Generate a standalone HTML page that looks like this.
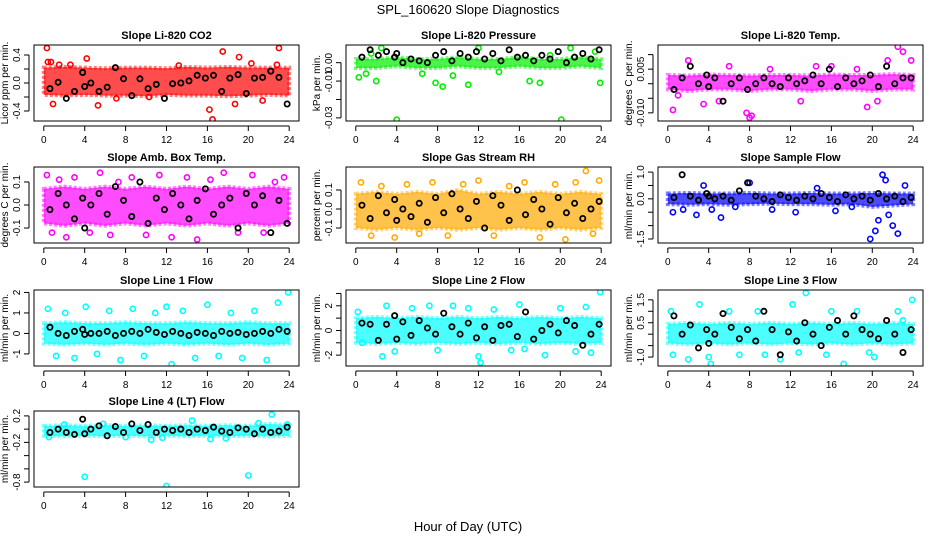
<!DOCTYPE html>
<html><head><meta charset="utf-8">
<style>
body{margin:0;background:#fff;}
svg{display:block;font-family:"Liberation Sans",sans-serif;}
</style></head>
<body>
<svg id="chart" width="936" height="540" viewBox="0 0 936 540" xmlns="http://www.w3.org/2000/svg">
<rect x="0" y="0" width="936" height="540" fill="#fff"/>
<text x="468" y="14" text-anchor="middle" font-size="13">SPL_160620  Slope Diagnostics</text>
<text x="468" y="531" text-anchor="middle" font-size="13">Hour of Day (UTC)</text>
</svg>
<script>
// shared x data
const bandHours=[0,2,4,6,8,10,12,14,16,18,20,22,24];
const blackHours=[0.6,1.4,2.2,3.0,3.8,4.0,4.6,5.4,6.2,7.0,7.8,8.6,9.4,10.2,11.0,11.8,12.6,13.4,14.2,15.0,15.8,16.6,17.4,18.2,19.0,19.8,20.6,21.4,22.2,23.0,23.8];
const xTicks=[0,4,8,12,16,20,24];

// Panel 1: CO2
const p1BandLo=[-0.17,-0.18,-0.17,-0.18,-0.18,-0.19,-0.17,-0.18,-0.18,-0.19,-0.18,-0.17,-0.18];
const p1BandHi=[0.22,0.23,0.22,0.21,0.22,0.22,0.21,0.23,0.22,0.23,0.22,0.22,0.22];
const p1OutX=[0.3,0.4,0.7,0.9,1.5,4.2,5.3,16.2,16.5,17.5,18.7,19.1,21.4,23.0,22.8,10.3,13.2,7.1,2.6,20.3];
const p1OutY=[0.5,0.3,0.3,-0.3,0.26,0.35,-0.32,-0.38,-0.52,0.45,-0.3,0.37,-0.25,0.5,0.26,-0.2,0.25,-0.22,0.26,0.28];
const p1Black=[-0.08,0.01,-0.22,-0.12,0.15,-0.05,0.0,-0.12,-0.06,0.22,0.06,-0.18,0.06,-0.08,-0.02,-0.22,-0.01,0.0,0.03,0.11,0.07,0.11,-0.12,0.07,0.12,-0.15,0.07,0.08,0.17,0.08,-0.3];

// Panel 2: Pressure
const p2BandLo=[-0.003,-0.003,-0.002,-0.003,-0.003,-0.002,-0.003,-0.003,-0.002,-0.003,-0.003,-0.002,-0.003];
const p2BandHi=[0.002,0.002,0.003,0.002,0.002,0.003,0.002,0.002,0.003,0.002,0.002,0.003,0.002];
const p2OutX=[0.3,1.0,1.5,2.0,4.0,6.5,7.8,8.5,11.0,12.0,14.0,17.0,18.0,20.1,23.4,23.9,21.0,2.5,19.0,9.5];
const p2OutY=[-0.008,-0.006,0.005,-0.01,-0.031,-0.006,-0.011,-0.013,-0.012,0.008,-0.005,-0.01,-0.011,-0.031,0.006,-0.011,0.008,0.008,0.004,-0.007];
const p2Black=[0.003,0.007,0.004,0.006,0.003,0.005,0.0,0.002,0.001,0.0,0.004,0.006,0.001,0.005,0.003,0.006,0.002,0.005,0.001,0.007,0.003,0.004,0.001,0.004,0.002,0.006,0.0,0.003,0.005,0.002,0.007];

// Panel 3: Li-820 Temp
const p3BandLo=[-0.002,-0.0025,-0.002,-0.002,-0.0025,-0.002,-0.002,-0.0025,-0.002,-0.002,-0.0025,-0.002,-0.002];
const p3BandHi=[0.003,0.0028,0.0032,0.003,0.0028,0.003,0.003,0.0028,0.0032,0.003,0.003,0.0033,0.003];
const p3OutX=[0.5,1.0,2.0,3.5,6.0,7.7,8.2,8.0,13.0,18.5,21.5,22.5,23.0,23.8,20.5,16.0,10.0,5.0,14.5,19.5];
const p3OutY=[-0.009,-0.004,0.008,-0.007,0.006,-0.010,-0.011,-0.0117,-0.006,0.005,0.008,0.0127,0.011,0.008,-0.006,0.006,0.005,-0.006,0.006,-0.008];
const p3Black=[-0.002,0.002,0.006,0.0,0.003,-0.001,0.002,-0.006,0.0,0.002,-0.002,0.0,0.002,0.0,-0.001,0.002,0.0,0.001,0.003,0.0,0.005,-0.001,0.002,0.0,0.001,0.003,-0.001,0.006,0.0,0.002,0.002];

// Panel 4: Amb. Box Temp
const p4BandLo=[-0.08,-0.09,-0.08,-0.09,-0.08,-0.09,-0.08,-0.09,-0.08,-0.09,-0.08,-0.09,-0.08];
const p4BandHi=[0.07,0.08,0.07,0.08,0.07,0.08,0.07,0.08,0.07,0.08,0.07,0.08,0.07];
const p4OutX=[0.3,0.8,1.5,2.2,3.0,4.5,5.5,6.5,7.3,8.6,10.0,11.3,12.5,14.0,15.0,16.3,17.6,19.0,20.4,21.5,22.6,23.5];
const p4OutY=[0.13,-0.12,0.11,-0.14,0.12,-0.12,0.14,-0.13,0.1,0.12,-0.13,0.13,-0.14,0.12,-0.15,0.11,0.14,-0.12,0.13,-0.12,0.1,0.12];
const p4Black=[-0.02,0.05,0.0,-0.06,0.03,-0.1,0.0,0.05,-0.04,0.08,0.02,-0.05,0.1,-0.08,0.03,-0.02,0.05,0.0,-0.06,0.02,0.07,-0.04,0.0,0.03,-0.1,0.05,0.0,0.04,-0.12,0.02,-0.08];

// Panel 5: Gas Stream RH
const p5BandLo=[-0.1,-0.11,-0.1,-0.11,-0.1,-0.11,-0.1,-0.11,-0.1,-0.11,-0.1,-0.11,-0.1];
const p5BandHi=[0.08,0.09,0.08,0.09,0.08,0.1,0.08,0.09,0.08,0.09,0.08,0.09,0.08];
const p5OutX=[0.5,1.5,2.5,3.8,5.0,6.2,7.5,9.0,10.5,12.0,13.5,15.0,16.5,18.0,19.5,20.5,21.5,22.5,23.2,23.8];
const p5OutY=[0.14,-0.14,0.12,-0.15,0.13,-0.13,0.14,-0.14,0.13,0.15,-0.14,0.12,0.14,-0.15,0.13,-0.16,0.14,0.2,-0.13,0.15];
const p5Black=[0.02,-0.05,0.07,-0.02,0.05,-0.06,0.0,-0.04,0.03,-0.07,0.06,-0.02,0.08,0.0,-0.05,0.04,-0.1,0.07,0.02,-0.06,0.1,-0.03,0.05,0.0,-0.08,0.06,-0.02,0.03,-0.05,0.0,0.04];

// Panel 6: Sample Flow
const p6BandLo=[-0.2,-0.22,-0.2,-0.22,-0.2,-0.18,-0.2,-0.2,-0.22,-0.2,-0.3,-0.25,-0.2];
const p6BandHi=[0.2,0.22,0.2,0.2,0.22,0.2,0.2,0.22,0.2,0.2,0.22,0.2,0.2];
const p6OutX=[0.5,1.5,2.8,3.5,4.3,5.2,6.6,8.0,10.2,12.5,14.6,16.4,18.0,19.8,20.3,20.6,21.0,21.3,21.6,22.0,22.5,23.2];
const p6OutY=[-0.5,-0.4,-0.6,0.5,-0.4,-0.7,-0.3,0.6,-0.4,-0.5,0.4,-0.45,-0.3,-1.5,-1.2,-0.8,0.9,0.7,-0.6,-1.0,-1.3,0.5];
const p6Black=[0.05,0.9,0.1,-0.05,0.2,0.1,0.0,0.1,-0.05,0.3,0.6,0.1,0.0,-0.1,0.15,0.05,-0.05,0.1,0.0,0.2,0.05,-0.1,0.15,0.0,0.1,-0.05,0.2,0.0,0.1,-0.1,0.05];

// Panel 7: Line 1 Flow
const p7BandLo=[-0.5,-0.55,-0.5,-0.55,-0.5,-0.55,-0.5,-0.55,-0.5,-0.55,-0.5,-0.55,-0.5];
const p7BandHi=[0.5,0.55,0.5,0.5,0.55,0.5,0.5,0.55,0.5,0.5,0.55,0.5,0.5];
const p7OutX=[0.4,1.2,2.1,3.0,4.1,5.2,6.4,7.5,8.7,9.8,10.9,12.0,12.5,13.6,14.8,16.0,17.1,18.3,19.4,20.6,21.8,22.9,23.9];
const p7OutY=[1.2,-1.1,1.0,-1.2,1.3,-1.0,1.1,-1.3,1.2,-1.1,1.0,1.3,-1.5,1.1,-1.2,1.4,-1.1,1.0,-1.2,1.1,-1.3,1.5,2.0];
const p7Black=[0.3,0.0,-0.1,0.1,0.2,-0.05,0.0,0.0,0.1,-0.1,0.0,0.1,0.0,0.2,0.05,-0.05,0.1,0.0,-0.1,0.05,0.0,-0.1,0.1,0.0,0.05,-0.05,0.0,0.1,0.0,0.2,0.1];

// Panel 8: Line 2 Flow
const p8BandLo=[-1.0,-1.1,-1.0,-1.1,-1.0,-1.1,-1.0,-1.1,-1.0,-1.1,-1.0,-1.1,-1.0];
const p8BandHi=[1.0,1.1,1.0,1.1,1.0,1.1,1.0,1.1,1.0,1.1,1.0,1.1,1.0];
const p8OutX=[0.2,0.6,2.6,3.0,3.8,5.5,7.2,8.0,9.5,11.0,12.0,12.2,13.5,15.2,16.0,16.5,18.5,20.0,21.5,22.5,23.0,23.9];
const p8OutY=[1.5,-1.0,-2.1,2.0,-1.7,1.8,2.0,-1.6,2.0,1.8,-2.1,-2.6,1.7,-1.6,2.1,-1.5,-2.0,1.8,-1.7,1.9,-1.8,3.1];
const p8Black=[0.6,0.5,-0.8,0.5,1.2,-0.7,0.7,-0.4,0.8,0.2,-0.3,1.4,0.3,-0.3,0.6,-0.6,0.3,-0.8,0.4,0.5,-0.5,1.5,-0.7,0.0,0.5,-0.2,0.8,0.4,-1.2,-0.3,0.5];

// Panel 9: Line 3 Flow
const p9BandLo=[-0.4,-0.45,-0.4,-0.45,-0.4,-0.45,-0.4,-0.45,-0.4,-0.45,-0.4,-0.45,-0.4];
const p9BandHi=[0.45,0.5,0.45,0.5,0.45,0.5,0.45,0.5,0.45,0.5,0.45,0.5,0.45];
const p9OutX=[0.3,0.5,2.0,3.1,4.0,4.2,6.0,7.0,8.8,9.5,11.0,12.2,12.8,13.5,15.5,16.0,17.2,18.5,19.7,20.2,22.5,23.0,23.9];
const p9OutY=[1.0,-0.9,-1.1,1.3,-1.0,-1.3,1.0,-0.9,1.0,-0.9,-1.1,1.3,-0.8,1.8,-0.9,1.0,-1.3,1.0,-0.8,-1.0,1.0,0.6,1.5];
const p9Black=[0.8,0.0,0.4,-0.6,0.2,-0.4,0.0,0.9,0.3,-0.2,0.2,-0.3,1.0,0.2,-0.9,0.1,-0.3,0.5,0.0,-0.5,0.3,0.6,0.0,0.8,0.2,0.0,-0.2,0.6,0.0,-0.8,0.2];

// Panel 10: Line 4 (LT) Flow
const p10BandLo=[-0.1,-0.11,-0.1,-0.11,-0.1,-0.11,-0.1,-0.11,-0.1,-0.11,-0.1,-0.11,-0.1];
const p10BandHi=[0.05,0.06,0.05,0.06,0.05,0.06,0.05,0.06,0.05,0.06,0.05,0.08,0.06];
const p10OutX=[0.5,2.0,4.0,5.8,8.0,10.5,11.6,12.0,14.5,16.3,17.8,20.0,21.0,22.3,23.8];
const p10OutY=[-0.12,0.07,-0.72,0.08,-0.12,-0.16,-0.13,-0.86,0.13,-0.15,-0.14,-0.7,0.09,0.22,0.07];
const p10Black=[-0.05,0.0,-0.05,-0.08,0.15,-0.07,0.0,0.05,-0.1,0.04,-0.05,0.08,-0.02,0.07,-0.05,0.0,-0.02,0.0,-0.05,0.0,-0.02,0.03,-0.03,-0.05,0.02,0.0,-0.07,0.0,-0.05,-0.03,0.03];

const NS="http://www.w3.org/2000/svg";
const svg=document.getElementById('chart');
function mk(tag,attrs,parent){const e=document.createElementNS(NS,tag);for(const k in attrs)e.setAttribute(k,attrs[k]);(parent||svg).appendChild(e);return e;}

const colL=[34,346,658], rowT=[45,167,290,411], W=265, H=76;
const panels=[
 {c:0,r:0,title:"Slope Li-820 CO2",yl:"Licor ppm per min.",col:"#ff0000",ylim:[-0.543,0.543],ticks:[-0.4,-0.2,0,0.2,0.4],labels:{"-0.4":"-0.4","0":"0.0","0.4":"0.4"},lo:p1BandLo,hi:p1BandHi,ox:p1OutX,oy:p1OutY,bk:p1Black},
 {c:1,r:0,title:"Slope Li-820 Pressure",yl:"kPa per min.",col:"#00ee00",ylim:[-0.0317,0.0096],ticks:[-0.03,-0.02,-0.01,0],labels:{"-0.03":"-0.03","-0.01":"-0.01","0":"0.00"},lo:p2BandLo,hi:p2BandHi,ox:p2OutX,oy:p2OutY,bk:p2Black},
 {c:2,r:0,title:"Slope Li-820 Temp.",yl:"degrees C per min.",col:"#ff00ff",ylim:[-0.0128,0.0133],ticks:[-0.01,-0.005,0,0.005,0.01],labels:{"-0.01":"-0.010","0.005":"0.005"},lo:p3BandLo,hi:p3BandHi,ox:p3OutX,oy:p3OutY,bk:p3Black},
 {c:0,r:1,title:"Slope Amb. Box Temp.",yl:"degrees C per min.",col:"#ff00ff",ylim:[-0.165,0.165],ticks:[-0.1,0,0.1],labels:{"-0.1":"-0.1","0":"0.0","0.1":"0.1"},lo:p4BandLo,hi:p4BandHi,ox:p4OutX,oy:p4OutY,bk:p4Black},
 {c:1,r:1,title:"Slope Gas Stream RH",yl:"percent per min.",col:"#ffaa00",ylim:[-0.179,0.221],ticks:[-0.1,0,0.1],labels:{"-0.1":"-0.1","0":"0.0","0.1":"0.1"},lo:p5BandLo,hi:p5BandHi,ox:p5OutX,oy:p5OutY,bk:p5Black},
 {c:2,r:1,title:"Slope Sample Flow",yl:"ml/min per min.",col:"#0000ff",ylim:[-1.65,1.19],ticks:[-1.5,-1,-0.5,0,0.5,1],labels:{"-1.5":"-1.5","0":"0.0","1":"1.0"},lo:p6BandLo,hi:p6BandHi,ox:p6OutX,oy:p6OutY,bk:p6Black},
 {c:0,r:2,title:"Slope Line 1 Flow",yl:"ml/min per min.",col:"#00ffff",ylim:[-1.59,2.12],ticks:[-1,0,1,2],labels:{"-1":"-1","0":"0","1":"1","2":"2"},lo:p7BandLo,hi:p7BandHi,ox:p7OutX,oy:p7OutY,bk:p7Black},
 {c:1,r:2,title:"Slope Line 2 Flow",yl:"ml/min per min.",col:"#00ffff",ylim:[-2.88,3.28],ticks:[-2,-1,0,1,2,3],labels:{"-2":"-2","0":"0","2":"2"},lo:p8BandLo,hi:p8BandHi,ox:p8OutX,oy:p8OutY,bk:p8Black},
 {c:2,r:2,title:"Slope Line 3 Flow",yl:"ml/min per min.",col:"#00ffff",ylim:[-1.39,1.93],ticks:[-1,-0.5,0,0.5,1,1.5],labels:{"-1":"-1.0","0.5":"0.5","1.5":"1.5"},lo:p9BandLo,hi:p9BandHi,ox:p9OutX,oy:p9OutY,bk:p9Black},
 {c:0,r:3,title:"Slope Line 4 (LT) Flow",yl:"ml/min per min.",col:"#00ffff",ylim:[-0.874,0.274],ticks:[-0.8,-0.6,-0.4,-0.2,0,0.2],labels:{"-0.8":"-0.8","-0.2":"-0.2","0.2":"0.2"},lo:p10BandLo,hi:p10BandHi,ox:p10OutX,oy:p10OutY,bk:p10Black}
];

panels.forEach((p,idx)=>{
  const L=colL[p.c], T=rowT[p.r];
  const g=mk('g',{});
  
  
  const xs=h=>L+W*(h+0.96)/25.92;
  const ys=v=>T+H*(p.ylim[1]-v)/(p.ylim[1]-p.ylim[0]);
  const clip='clip'+idx;
  const cp=mk('clipPath',{id:clip},g);mk('rect',{x:L,y:T,width:W,height:H},cp);
  // band
  let pts=bandHours.map((h,i)=>xs(h)+','+ys(p.hi[i]));
  pts=pts.concat(bandHours.map((h,i)=>xs(h)+','+ys(p.lo[i])).reverse());
  const band=mk('polygon',{points:pts.join(' '),fill:p.col,'fill-opacity':0.7,stroke:p.col,'stroke-opacity':0.5,'stroke-width':4,'stroke-dasharray':'3 2','clip-path':'url(#'+clip+')'},g);
  
  
  // outlier points
  p.ox.forEach((h,i)=>{
    const c=mk('circle',{cx:xs(h),cy:ys(p.oy[i]),r:2.6,fill:'none',stroke:p.col,'stroke-width':1.6,'clip-path':'url(#'+clip+')'},g);
    
    
  });
  // black points
  blackHours.forEach((h,i)=>{
    const c=mk('circle',{cx:xs(h),cy:ys(p.bk[i]),r:2.6,fill:'none',stroke:'#000','stroke-width':1.8,'clip-path':'url(#'+clip+')'},g);
    
    
  });
  // frame
  const fr=mk('rect',{x:L,y:T,width:W,height:H,fill:'none',stroke:'#000','stroke-width':1},g);
  
  
  // title
  const t=mk('text',{x:L+W/2,y:T-6,'text-anchor':'middle','font-size':11,'font-weight':'bold'},g);
  t.textContent=p.title;
  
  
  // x axis
  const xb=T+H+5;
  mk('line',{x1:xs(0),x2:xs(24),y1:xb,y2:xb,stroke:'#000'},g);
  xTicks.forEach(v=>{
    mk('line',{x1:xs(v),x2:xs(v),y1:xb,y2:xb+5,stroke:'#000'},g);
    const tl=mk('text',{x:xs(v),y:xb+17,'text-anchor':'middle','font-size':10},g);
    tl.textContent=v;
    
    
  });
  // y axis
  const xa=L-5, ys0=p.ticks.map(ys);
  mk('line',{x1:xa,x2:xa,y1:Math.min(...ys0),y2:Math.max(...ys0),stroke:'#000'},g);
  p.ticks.forEach(v=>{
    const y=ys(v);
    mk('line',{x1:xa-5,x2:xa,y1:y,y2:y,stroke:'#000'},g);
    const lab=p.labels[String(v)];
    if(lab){
      const tl=mk('text',{x:xa-9,y:y,'text-anchor':'middle','font-size':10,transform:'rotate(-90 '+(xa-9)+' '+y+')'},g);
      tl.textContent=lab;
      
      
    }
  });
  const yc=T+H/2, yx=L-26;
  const yt=mk('text',{x:yx,y:yc,'text-anchor':'middle','font-size':10,transform:'rotate(-90 '+yx+' '+yc+')'},g);
  yt.textContent=p.yl;
  
  
});
</script>
</body></html>
